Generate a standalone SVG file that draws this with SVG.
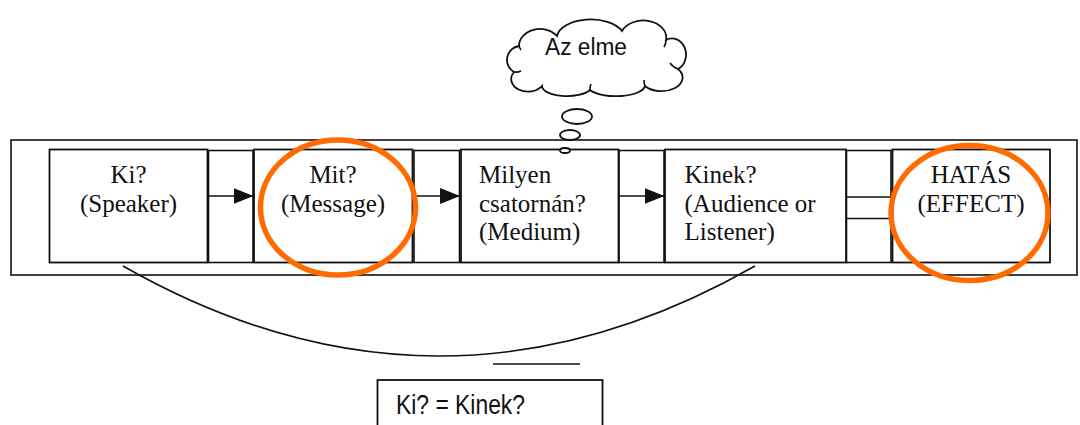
<svg xmlns="http://www.w3.org/2000/svg" width="1080" height="425" viewBox="0 0 1080 425">
<style>
.box{fill:#fff;stroke:#111;stroke-width:1.8}
.cell{fill:#fff;stroke:#111;stroke-width:1.6}
.ln{fill:none;stroke:#111;stroke-width:1.6}
.ser{font-family:"Liberation Serif","Times New Roman",serif;font-size:25px;fill:#111}
.mid{text-anchor:middle}
.san{font-family:"Liberation Sans",Arial,sans-serif;fill:#111}
.hl{fill:none;stroke:#FF6B00;stroke-width:5.5}
.bub{fill:#fff;stroke:#111;stroke-width:1.8}
</style>
<defs>
<marker id="ah" markerUnits="userSpaceOnUse" markerWidth="20" markerHeight="16" refX="20" refY="8" orient="auto">
<path d="M0,0 L20,8 L0,16 z" fill="#111"/>
</marker>
</defs>
<rect width="1080" height="425" fill="#fff"/>
<rect id="frame" x="11" y="140" width="1066" height="135" class="ln"/>
<g id="cells">
<rect x="208.5" y="150.5" width="44.5" height="112" class="cell"/>
<rect x="414" y="150.5" width="45.5" height="112" class="cell"/>
<rect x="619" y="150.5" width="45" height="112" class="cell"/>
<rect x="846.5" y="150.5" width="44.5" height="112" class="cell"/>
</g>
<g id="connectors">
<line x1="208.5" y1="196" x2="253.5" y2="196" class="ln" marker-end="url(#ah)"/>
<line x1="414" y1="196" x2="460" y2="196" class="ln" marker-end="url(#ah)"/>
<line x1="619" y1="196" x2="664.5" y2="196" class="ln" marker-end="url(#ah)"/>
<line x1="846.5" y1="197" x2="891" y2="197" class="ln"/>
<line x1="846.5" y1="218.5" x2="891" y2="218.5" class="ln"/>
<path d="M123,266 Q439,446 755,266" class="ln"/>
<line x1="493" y1="364" x2="580" y2="364" class="ln"/>
</g>
<g id="n-ki">
<rect x="49.5" y="149.5" width="158" height="113" class="box"/>
<text class="ser mid" x="128.5" y="183">Ki?</text>
<text class="ser mid" x="128.5" y="212">(Speaker)</text>
</g>
<g id="n-mit">
<rect x="254" y="149.5" width="158.5" height="113" class="box"/>
<text class="ser mid" x="333" y="183">Mit?</text>
<text class="ser mid" x="333" y="212">(Message)</text>
</g>
<g id="n-milyen">
<rect x="461" y="149.5" width="157.5" height="113" class="box"/>
<text class="ser" x="479" y="183">Milyen</text>
<text class="ser" x="479" y="211.5">csatornán?</text>
<text class="ser" x="479" y="240">(Medium)</text>
</g>
<g id="n-kinek">
<rect x="665" y="149.5" width="181" height="113" class="box"/>
<text class="ser" x="684.5" y="183">Kinek?</text>
<text class="ser" x="684.5" y="211.5">(Audience or</text>
<text class="ser" x="684.5" y="240">Listener)</text>
</g>
<g id="n-hatas">
<rect x="892.5" y="149.5" width="157.5" height="113" class="box"/>
<text class="ser mid" x="971" y="183">HATÁS</text>
<text class="ser mid" x="971" y="212">(EFFECT)</text>
</g>
<g id="highlights">
<ellipse cx="338" cy="207.5" rx="77.5" ry="67.5" class="hl"/>
<ellipse cx="969.5" cy="213" rx="78.5" ry="67.5" class="hl"/>
</g>
<g id="n-elme">
<path class="bub" d="M514,72 A14,14 0 0 1 519,46 A21,17 0 0 1 557,36 A34,19 0 0 1 622,31 A23,17 0 0 1 666,40 A14,16 0 0 1 678,69 A20,13 0 0 1 645,86 A29,11 0 0 1 590,90 A25,10 0 0 1 542,86 A16,12 0 0 1 514,72 Z"/>
<path class="ln" d="M519,46 A12,12 0 0 0 521,50 M666,40 A12,12 0 0 1 664,47 M678,69 A16,16 0 0 1 670,63 M645,86 A12,12 0 0 1 644,80 M590,90 A12,12 0 0 1 591,84 M514,72 A12,12 0 0 0 521,71" stroke-width="1.4"/>
<text class="san" x="545" y="55" font-size="23.5" textLength="82" lengthAdjust="spacingAndGlyphs">Az elme</text>
<ellipse cx="577" cy="116.5" rx="15" ry="7.5" class="bub"/>
<ellipse cx="570" cy="135" rx="10" ry="5" class="bub"/>
<ellipse cx="565" cy="150.5" rx="5" ry="2.5" class="bub"/>
</g>
<g id="n-equal">
<rect x="377.5" y="380" width="225" height="60" class="box"/>
<text class="san" x="396" y="414" font-size="28" textLength="129" lengthAdjust="spacingAndGlyphs">Ki?  = Kinek?</text>
</g>
</svg>
